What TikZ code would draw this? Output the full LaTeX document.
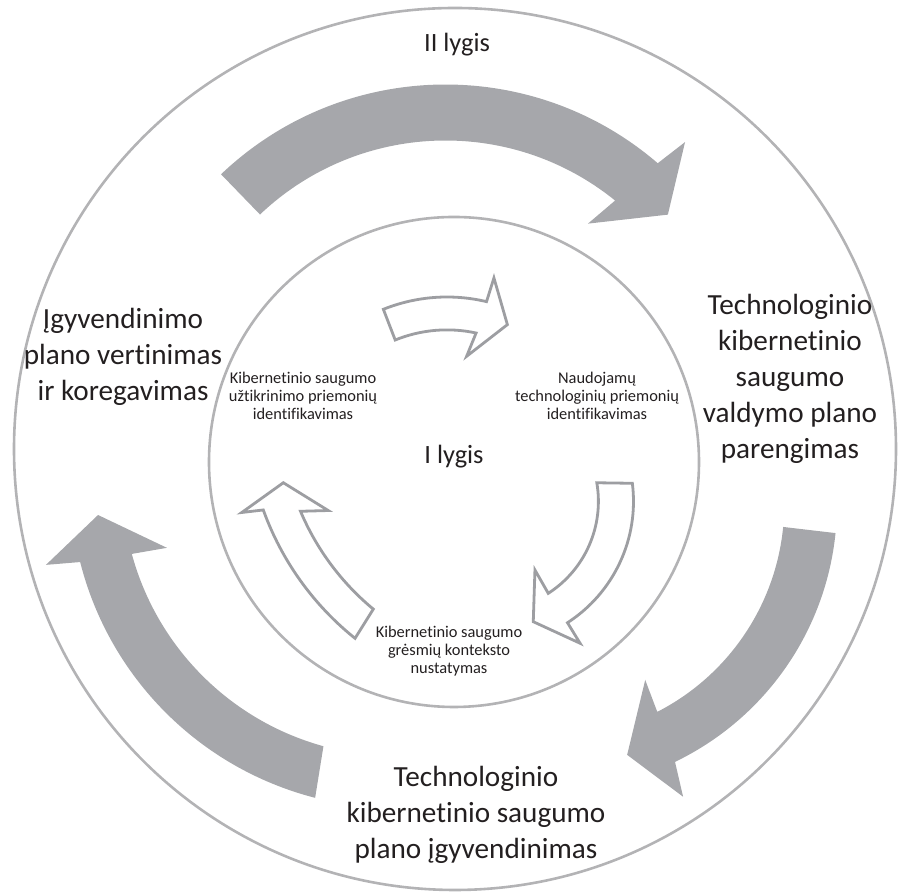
\documentclass[tikz,border=0pt]{standalone}
\usepackage{fontspec}
\setmainfont{Carlito}[Ligatures=NoCommon]
\definecolor{ringgray}{HTML}{B3B3B5}
\definecolor{arrowgray}{HTML}{A6A7AB}
\definecolor{outlinegray}{HTML}{9D9EA2}
\definecolor{textdark}{HTML}{231F20}
\tikzset{
  ring/.style={circle, draw=ringgray, line width=1.3pt, inner sep=0pt},
  bigarrow/.style={fill=arrowgray},
  hollowarrow/.style={draw=outlinegray, fill=white, line width=1.4pt, line join=miter},
  biglabel/.style={align=center, text=textdark, font=\fontsize{14.6}{18}\selectfont, inner sep=0pt},
  levellabel/.style={text=textdark, font=\fontsize{13.2}{15}\selectfont, inner sep=0pt},
  smalllabel/.style={align=center, text=textdark, font=\fontsize{8.2}{9}\selectfont, inner sep=0pt},
}
\begin{document}
\begin{tikzpicture}[x=0.5pt, y=0.5pt]
\useasboundingbox (0,0) rectangle (907,893);

% level rings
\node[ring, minimum size=441pt] (outerring) at (455,444) {};
\node[ring, minimum size=245pt] (innerring) at (454,431) {};

% level II: filled curved arrows
\begin{scope}[shift={(445.5,483)}]
  \fill[bigarrow] (133.5:269.5) arc[start angle=133.5, end angle=51.0, radius=269.5]
    -- (52.6:234.6) -- (41.3:296) -- (48.2:359.4) -- (49.3:325.5)
    arc[start angle=49.3, end angle=133.6, radius=325.5] -- cycle;
\end{scope}
\begin{scope}[shift={(551,388.8)}]
  \fill[bigarrow] (-5.6:233.3) arc[start angle=-5.6, end angle=-62.9, radius=233.3]
    -- (-61.8:199.4) -- (-73.1:262) -- (-65.7:321) -- (-64.3:286)
    arc[start angle=-64.3, end angle=-5.8, radius=286] -- cycle;
\end{scope}
\begin{scope}[shift={(396.2,410.9)}]
  \fill[bigarrow] (254.6:274) arc[start angle=254.6, end angle=195.2, radius=274]
    -- (196.0:238.5) -- (186.3:300) -- (193.3:359.9) -- (194.2:326)
    arc[start angle=194.2, end angle=255.6, radius=326] -- cycle;
\end{scope}

% level I: outlined curved arrows
\begin{scope}[shift={(447,425.4)}]
  \draw[hollowarrow] (112.1:137.7) arc[start angle=112.1, end angle=77.8, radius=137.7]
    -- (80.0:113) -- (67.1:155.2) -- (76.1:195.4) -- (76.6:170.6)
    arc[start angle=76.6, end angle=111.9, radius=170.6] -- cycle;
\end{scope}
\begin{scope}[shift={(489,391.6)}]
  \draw[hollowarrow] (9.8:109.4) arc[start angle=9.8, end angle=-57.2, radius=109.4]
    -- (-56.2:82.6) -- (-69.8:128.2) -- (-57.3:168.6) -- (-57.1:144.5)
    arc[start angle=-57.1, end angle=7.2, radius=144.5] -- cycle;
\end{scope}
\begin{scope}[shift={(536.8,481.5)}]
  \draw[hollowarrow] (230.4:256.5) arc[start angle=230.4, end angle=202.9, radius=256.5]
    -- (205.4:230.9) -- (195.7:263.3) -- (198.9:311.8) -- (199.8:290.7)
    arc[start angle=199.8, end angle=231.3, radius=290.7] -- cycle;
\end{scope}

% level titles
\node[levellabel] (level2) at (457,848) {II lygis};
\node[levellabel] (level1) at (454,436) {I lygis};

% level II stages
\node[biglabel] (planprep) at (790,514) {Technologinio\\kibernetinio\\saugumo\\valdymo plano\\parengimas};
\node[biglabel] (planimpl) at (476,78) {Technologinio\\kibernetinio saugumo\\plano įgyvendinimas};
\node[biglabel] (planeval) at (123,536) {Įgyvendinimo\\plano vertinimas\\ir koregavimas};

% level I stages
\node[smalllabel] (techid) at (597,497) {Naudojamų\\technologinių priemonių\\identifikavimas};
\node[smalllabel] (threatctx) at (449,242) {Kibernetinio saugumo\\grėsmių konteksto\\nustatymas};
\node[smalllabel] (measureid) at (303,497) {Kibernetinio saugumo\\užtikrinimo priemonių\\identifikavimas};
\end{tikzpicture}
\end{document}
